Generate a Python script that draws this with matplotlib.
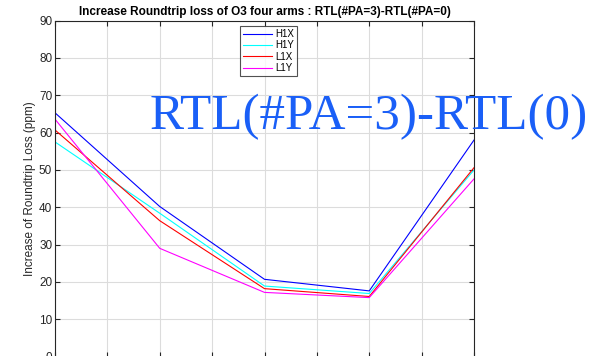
import matplotlib
matplotlib.use("Agg")
import matplotlib.pyplot as plt

x = [1, 2, 3, 4, 5]
series_names = ["H1X", "H1Y", "L1X", "L1Y"]
h1x = [65.3, 40.2, 20.7, 17.6, 58.0]
h1y = [57.5, 38.4, 18.9, 16.9, 50.0]
l1x = [60.7, 36.4, 18.2, 16.1, 50.6]
l1y = [63.6, 29.0, 17.2, 15.8, 47.6]
colors = ["#0000ff", "#00ffff", "#ff0000", "#ff00ff"]
xticks = [1, 1.5, 2, 2.5, 3, 3.5, 4, 4.5, 5]
yticks = [0, 10, 20, 30, 40, 50, 60, 70, 80, 90]

plt.rcParams['font.family'] = ['Liberation Sans', 'DejaVu Sans']

fig = plt.figure(figsize=(6.08, 3.56), dpi=100)
ax = fig.add_axes([55/608, -0.6/356, 419/608, 336/356])

for vals, name, c in zip([h1x, h1y, l1x, l1y], series_names, colors):
    ax.plot(x, vals, color=c, lw=0.8, label=name)

ax.set_xlim(1, 5)
ax.set_ylim(0, 90)
ax.set_xticks(xticks)
ax.set_xticklabels([])
ax.set_yticks(yticks)
ax.grid(True, color="#dcdcdc", lw=0.8)
ax.set_axisbelow(True)
ax.tick_params(direction="in", top=True, right=True, length=3.5, width=0.8,
               colors="#262626", labelsize=8.5, pad=2)
for s in ax.spines.values():
    s.set_color("#262626")
    s.set_linewidth(0.8)

ax.set_ylabel("Increase of Roundtrip Loss (ppm)", fontsize=8.5, color="#262626", labelpad=2)
ax.set_title("Increase Roundtrip loss of O3 four arms : RTL(#PA=3)-RTL(#PA=0)",
             fontsize=8.5, fontweight="bold", pad=4)

leg = ax.legend(loc="upper left", bbox_to_anchor=((240-55)/419, 1 - (26-20.6)/336),
                fontsize=7, frameon=True, fancybox=False, borderpad=0.3,
                labelspacing=0.15, handlelength=3.0, handletextpad=0.3,
                borderaxespad=0)
leg.get_frame().set_edgecolor("#262626")
leg.get_frame().set_linewidth(0.8)

fig.text(150/608, 1 - 129.3/356, "RTL(#PA=3)-RTL(0)", fontsize=36.8,
         family=["Liberation Serif", "DejaVu Serif"], color="#1a5ff7",
         ha="left", va="baseline")

fig.savefig("out.png", dpi=100)
